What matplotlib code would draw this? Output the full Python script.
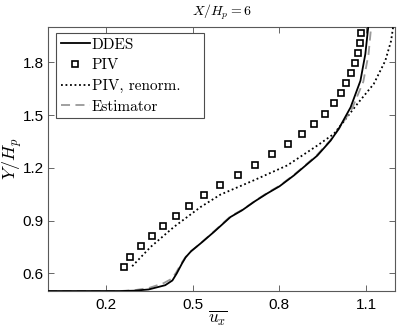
import numpy as np
import matplotlib
matplotlib.use('Agg')
import matplotlib.pyplot as plt

plt.rcParams['mathtext.fontset'] = 'cm'
plt.rcParams['font.family'] = ['Liberation Sans', 'DejaVu Sans']

# PIV measurements (squares)
piv_u = [0.264, 0.285, 0.320, 0.359, 0.399, 0.443, 0.489, 0.541, 0.596, 0.658,
         0.716, 0.775, 0.829, 0.879, 0.921, 0.957, 0.988, 1.012, 1.031, 1.048,
         1.062, 1.072, 1.077, 1.081]
piv_y = [0.637, 0.694, 0.755, 0.811, 0.870, 0.929, 0.985, 1.044, 1.100, 1.161,
         1.219, 1.278, 1.334, 1.391, 1.448, 1.505, 1.567, 1.626, 1.683, 1.739,
         1.798, 1.854, 1.911, 1.969]

# PIV renormalised (dotted)
ren_u = [0.291, 0.355, 0.435, 0.527, 0.596, 0.711, 0.827, 0.931, 0.988, 1.011,
         1.069, 1.126, 1.166, 1.186, 1.193]
ren_y = [0.641, 0.751, 0.864, 0.977, 1.048, 1.129, 1.214, 1.327, 1.393, 1.440,
         1.563, 1.677, 1.809, 1.922, 2.000]

# DDES (solid)
ddes_u = [0.0, 0.25, 0.30, 0.348, 0.405, 0.43, 0.445, 0.463, 0.476, 0.495,
          0.527, 0.573, 0.631, 0.671, 0.715, 0.758, 0.80, 0.85, 0.931, 0.977,
          1.005, 1.046, 1.08, 1.097, 1.107]
ddes_y = [0.5, 0.5, 0.502, 0.509, 0.533, 0.56, 0.60, 0.656, 0.692, 0.727,
          0.77, 0.835, 0.921, 0.959, 1.010, 1.055, 1.095, 1.157, 1.27, 1.355,
          1.422, 1.544, 1.695, 1.847, 2.0]

# Estimator (grey dashed)
est_u = [0.0, 0.25, 0.30, 0.35, 0.40, 0.428, 0.443, 0.46, 0.474, 0.494,
         0.527, 0.573, 0.631, 0.675, 0.718, 0.76, 0.80, 0.85, 0.928, 0.975,
         1.005, 1.052, 1.09, 1.108, 1.117]
est_y = [0.5, 0.5, 0.505, 0.518, 0.545, 0.57, 0.605, 0.655, 0.69, 0.725,
         0.77, 0.838, 0.925, 0.965, 1.015, 1.06, 1.098, 1.16, 1.27, 1.355,
         1.42, 1.54, 1.69, 1.845, 2.0]

xticks = [0.2, 0.5, 0.8, 1.1]
yticks = [0.6, 0.9, 1.2, 1.5, 1.8]

fig = plt.figure(figsize=(3.99, 3.27), dpi=100)
ax = fig.add_axes([0.1203, 0.110, 0.870, 0.807])

ax.plot(ddes_u, ddes_y, '-', color='black', lw=1.3, label='DDES', zorder=4)
ax.plot(piv_u, piv_y, 's', mfc='white', mec='black', ms=4.6, mew=1.2,
        label='PIV', zorder=5)
ax.plot(ren_u, ren_y, color='black', lw=1.3, ls=(0, (1, 1.5)),
        label='PIV, renorm.', zorder=3)
ax.plot(est_u, est_y, color='0.6', lw=1.3, ls=(0, (5, 3)),
        label='Estimator', zorder=3)

ax.set_xlim(0, 1.2)
ax.set_ylim(0.5, 2.0)
ax.set_xticks(xticks)
ax.set_yticks(yticks)
ax.set_xticklabels(['%.1f' % v for v in xticks])
ax.set_yticklabels(['%.1f' % v for v in yticks])
ax.tick_params(direction='in', top=True, right=True, length=4, width=0.6,
               labelsize=11, color='0.3')
ax.tick_params(axis='x', pad=5)
ax.tick_params(axis='y', pad=3)
for s in ax.spines.values():
    s.set_color('0.35')
    s.set_linewidth(0.8)

ax.set_title('$X/H_p=6$', fontsize=10, pad=8)
ax.set_xlabel(r'$\overline{u_x}$', fontsize=12.5)
ax.xaxis.set_label_coords(0.49, -0.066)
ax.set_ylabel('$Y/H_p$', fontsize=13)
ax.yaxis.set_label_coords(-0.07, 0.5)

leg = ax.legend(loc='upper left', bbox_to_anchor=(0.023, 0.0, 0.427, 0.977),
                mode='expand', borderaxespad=0,
                prop={'family': 'cmr10', 'size': 11},
                handlelength=1.9, handletextpad=0.15, labelspacing=0.45,
                borderpad=0.3, fancybox=False, framealpha=1, edgecolor='0.3')
leg.get_frame().set_linewidth(0.8)

fig.savefig('out.png', dpi=100)
